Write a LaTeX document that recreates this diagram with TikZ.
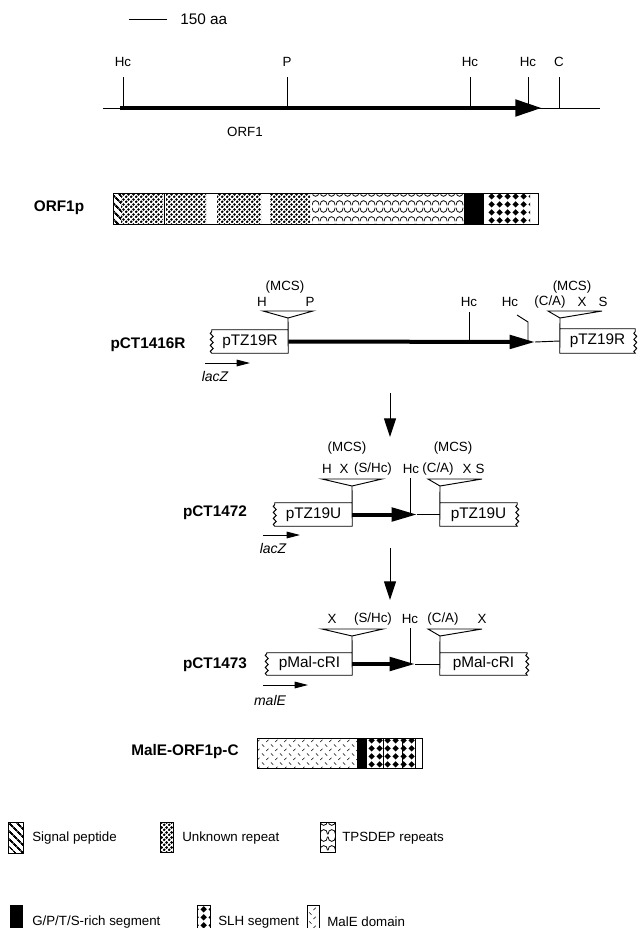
\documentclass[tikz,border=0pt]{standalone}
\usepackage{fontspec}
\setmainfont{Liberation Sans}
\usetikzlibrary{positioning, arrows.meta, calc, patterns, patterns.meta, decorations.pathmorphing}

% Fill patterns for the protein domains
\tikzdeclarepattern{
  name=stipple,
  type=uncolored,
  bounding box={(0,0) and (3.6pt,3.6pt)},
  tile size={(3.6pt,3.6pt)},
  code={
    \fill (0.9pt,0.9pt) circle (1.1pt);
    \fill (2.7pt,2.7pt) circle (1.1pt);
  }
}
\tikzdeclarepattern{
  name=wavy rows,
  type=uncolored,
  bounding box={(0,0) and (6pt,11.5pt)},
  tile size={(6pt,11.5pt)},
  code={
    \draw[line width=0.6pt] (0,11pt) .. controls (0,6.2pt) and (6pt,6.2pt) .. (6pt,11pt);
    \draw[line width=0.6pt] (0,0.5pt) .. controls (0,5.3pt) and (6pt,5.3pt) .. (6pt,0.5pt);
  }
}
\tikzdeclarepattern{
  name=slh diamonds,
  type=uncolored,
  bounding box={(0,0) and (6pt,6pt)},
  tile size={(6pt,6pt)},
  code={\fill (3pt,0.4pt) -- (5.6pt,3pt) -- (3pt,5.6pt) -- (0.4pt,3pt) -- cycle;}
}
\tikzdeclarepattern{
  name=male dashes,
  type=uncolored,
  bounding box={(0,0) and (7pt,7pt)},
  tile size={(7pt,7pt)},
  code={
    \draw[line width=0.4pt] (0.8pt,6pt) -- (2.6pt,4.2pt);
    \draw[line width=0.4pt] (4.2pt,0.8pt) -- (6pt,2.6pt);
  }
}

\begin{document}
\begin{tikzpicture}[
  x=0.75pt, y=-0.75pt,
  font=\fontsize{10}{12}\selectfont,
  % Estilos de texto
  site/.style={inner sep=0pt, font=\fontsize{10}{12}\selectfont},
  plasmid/.style={inner sep=0pt, font=\bfseries\fontsize{11.5}{13}\selectfont},
  vec/.style={inner sep=0pt, font=\fontsize{11.5}{13}\selectfont},
  gene/.style={inner sep=0pt, font=\itshape\fontsize{10.5}{12}\selectfont},
  legtext/.style={anchor=west, inner sep=0pt, font=\fontsize{10}{12}\selectfont},
  % Estilos de lineas
  bbone/.style={draw, line width=0.7pt},
  seg/.style={draw, line width=0.7pt},
  mcs/.style={draw, fill=white, line width=0.7pt},
  wav/.style={decoration={snake, segment length=4.5pt, amplitude=1.1pt}},
  orf/.style={draw, line width=3.6pt, -{Triangle[length=20pt, width=12pt]}},
  orfsmall/.style={draw, line width=3pt, -{Triangle[length=19pt, width=10pt]}},
  promo/.style={draw, line width=0.7pt, -{Triangle[length=10pt, width=5pt]}},
  steparrow/.style={draw, line width=0.7pt, -{Triangle[length=14pt, width=9pt]}},
  signal/.style={pattern={Lines[angle=-45, distance=4pt, line width=1.6pt]}}
]
  \clip (0,0) rectangle (637,928);

  % ==========================================
  % SCALE AND ORF1 MAP
  % ==========================================
  \coordinate (barL) at (129,19);
  \coordinate (barR) at (167,19);
  \draw[bbone] (barL) -- (barR);
  \node[anchor=west, inner sep=0pt, font=\fontsize{11.5}{13}\selectfont] (scale) at (180,19) {150 aa};

  \coordinate (mapL) at (103,108);
  \coordinate (mapR) at (600,108);
  \coordinate (orfS) at (120,108);
  \coordinate (orfE) at (542,108);
  \draw[bbone] (mapL) -- (mapR);
  \draw[orf] (orfS) -- (orfE);
  \foreach \x/\lab/\nm in {123/Hc/mhcA, 287/P/mp, 470/Hc/mhcB, 528/Hc/mhcC, 559/C/mc}{
    \draw[bbone] (\x,108) -- (\x,77);
    \node[site] (\nm) at (\x,62) {\lab};
  }
  \node[site] (orflab) at (245,132) {ORF1};

  % ==========================================
  % ORF1p
  % ==========================================
  \node[plasmid] (orf1p) at (59,208) {ORF1p};
  \fill[signal] (113,193) rectangle (121,224);
  \foreach \a/\b in {121/163, 166/206, 217/261, 270/310}
    \fill[pattern=stipple] (\a,193) rectangle (\b,224);
  \draw[bbone] (164.5,193) -- (164.5,224);
  \fill[pattern=wavy rows] (312,193) rectangle (464,224);
  \fill (464,193) rectangle (484,224);
  \fill[pattern=slh diamonds] (487,193) rectangle (530,224);
  \draw[seg] (113,193) rectangle (538,224);

  % ==========================================
  % pCT1416R
  % ==========================================
  \node[plasmid] (p1416) at (148,345) {pCT1416R};
  \node[vec, minimum width=57pt, minimum height=17.25pt] (tzL1) at (250,341.5) {pTZ19R};
  \node[vec, minimum width=56.25pt, minimum height=18pt] (tzR1) at (597.5,341) {pTZ19R};
  \coordinate (mcsL1) at (288,318);
  \coordinate (mcsR1) at (560,318);
  \coordinate (insE1) at (535,342);
  \draw[bbone] (mcsL1) -- (tzL1.south east) -- (tzL1.south west)
    decorate[wav]{-- (tzL1.north west)} -- (tzL1.north east);
  \draw[bbone] (mcsR1) -- (tzR1.south west) -- (tzR1.south east)
    decorate[wav]{-- (tzR1.north east)} -- (tzR1.north west);
  \draw[mcs] (263,311) -- (313,311) -- (mcsL1) -- cycle;
  \draw[mcs] (548,311) -- (602,311) -- (mcsR1) -- cycle;
  \draw[orfsmall] (tzL1.east) -- (insE1);
  \draw[bbone] (insE1) -- (tzR1.west);
  \draw[bbone] (469,342) -- (469,312);
  \draw[bbone] (528,342) -- (528,322) -- (517,315);

  \node[site] (mcs1a) at (285,287) {(MCS)};
  \node[site] (h1) at (262,302) {H};
  \node[site] (p1) at (310,302) {P};
  \node[site] (hc1a) at (469,302) {Hc};
  \node[site] (hc1b) at (510,302) {Hc};
  \node[site] (mcs1b) at (572,287) {(MCS)};
  \node[site] (ca1) at (550,302) {(C/A)};
  \node[site] (x1) at (582,302) {X};
  \node[site] (s1) at (603,302) {S};

  \coordinate (lacS1) at (205,363);
  \coordinate (lacE1) at (250,363);
  \draw[promo] (lacS1) -- (lacE1);
  \node[gene] (lac1) at (215,376) {lacZ};

  \coordinate (stepA1) at (390,393);
  \coordinate (stepA2) at (390,437);
  \draw[steparrow] (stepA1) -- (stepA2);

  % ==========================================
  % pCT1472
  % ==========================================
  \node[plasmid] (p1472) at (215,513) {pCT1472};
  \node[vec, minimum width=57.75pt, minimum height=17.25pt] (tzL2) at (313.5,514.5) {pTZ19U};
  \node[vec, minimum width=57.75pt, minimum height=17.25pt] (tzR2) at (478.5,514.5) {pTZ19U};
  \coordinate (mcsL2) at (352,486);
  \coordinate (mcsR2) at (440,486);
  \coordinate (insE2) at (417,514.5);
  \draw[bbone] (mcsL2) -- (tzL2.south east) -- (tzL2.south west)
    decorate[wav]{-- (tzL2.north west)} -- (tzL2.north east);
  \draw[bbone] (mcsR2) -- (tzR2.south west) -- (tzR2.south east)
    decorate[wav]{-- (tzR2.north east)} -- (tzR2.north west);
  \draw[mcs] (322,479) -- (382,479) -- (mcsL2) -- cycle;
  \draw[mcs] (428,479) -- (482,479) -- (mcsR2) -- cycle;
  \draw[orfsmall] (tzL2.east) -- (insE2);
  \draw[bbone] (insE2) -- (tzR2.west);
  \draw[bbone] (410,514.5) -- (410,478);

  \node[site] (mcs2a) at (347,448) {(MCS)};
  \node[site] (h2) at (327,469) {H};
  \node[site] (x2a) at (344,469) {X};
  \node[site] (shc2) at (373,469) {(S/Hc)};
  \node[site] (hc2) at (411,469) {Hc};
  \node[site] (mcs2b) at (453,448) {(MCS)};
  \node[site] (ca2) at (438,469) {(C/A)};
  \node[site] (x2b) at (467,469) {X};
  \node[site] (s2) at (480,469) {S};

  \coordinate (lacS2) at (263,535);
  \coordinate (lacE2) at (300,535);
  \draw[promo] (lacS2) -- (lacE2);
  \node[gene] (lac2) at (273,548) {lacZ};

  \coordinate (stepB1) at (390,548);
  \coordinate (stepB2) at (390,600);
  \draw[steparrow] (stepB1) -- (stepB2);

  % ==========================================
  % pCT1473
  % ==========================================
  \node[plasmid] (p1473) at (215,665) {pCT1473};
  \node[vec, minimum width=63.75pt, minimum height=16.5pt] (malL3) at (309.5,664) {pMal-cRI};
  \node[vec, minimum width=65.25pt, minimum height=16.5pt] (malR3) at (483.5,664) {pMal-cRI};
  \coordinate (mcsL3) at (352,636);
  \coordinate (mcsR3) at (440,636);
  \coordinate (insE3) at (415,664);
  \draw[bbone] (mcsL3) -- (malL3.south east) -- (malL3.south west)
    decorate[wav]{-- (malL3.north west)} -- (malL3.north east);
  \draw[bbone] (mcsR3) -- (malR3.south west) -- (malR3.south east)
    decorate[wav]{-- (malR3.north east)} -- (malR3.north west);
  \draw[mcs] (322,629) -- (383,629) -- (mcsL3) -- cycle;
  \draw[mcs] (428,629) -- (482,629) -- (mcsR3) -- cycle;
  \draw[orfsmall] (malL3.east) -- (insE3);
  \draw[bbone] (insE3) -- (malR3.west);
  \draw[bbone] (410,664) -- (410,628);

  \node[site] (x3a) at (332,619) {X};
  \node[site] (shc3) at (373,619) {(S/Hc)};
  \node[site] (hc3) at (410,619) {Hc};
  \node[site] (ca3) at (443,619) {(C/A)};
  \node[site] (x3b) at (482,619) {X};

  \coordinate (malS3) at (263,685);
  \coordinate (malE3) at (308,685);
  \draw[promo] (malS3) -- (malE3);
  \node[gene] (male3) at (270,700) {malE};

  % ==========================================
  % MalE-ORF1p-C
  % ==========================================
  \node[plasmid] (fusion) at (185,752) {MalE-ORF1p-C};
  \fill[pattern=male dashes] (257,738) rectangle (357,768);
  \fill (357,738) rectangle (367,768);
  \fill[pattern=slh diamonds] (368,738) rectangle (415,768);
  \foreach \x in {383,402,415}
    \draw[bbone] (\x,738) -- (\x,768);
  \draw[seg] (257,738) rectangle (422,768);

  % ==========================================
  % LEGEND
  % ==========================================
  \draw[seg, signal] (8,822) rectangle (23,853);
  \node[legtext] (lsig) at (32,838) {Signal peptide};
  \draw[seg, pattern=stipple] (160,822) rectangle (173,852);
  \node[legtext] (lunk) at (182,838) {Unknown repeat};
  \draw[seg, pattern=wavy rows] (320,822) rectangle (335,852);
  \node[legtext] (ltps) at (342,838) {TPSDEP repeats};

  \fill (10,905) rectangle (23,940);
  \node[legtext] (lgpts) at (32,922) {G/P/T/S-rich segment};
  \draw[seg, pattern=slh diamonds] (197,905) rectangle (210,940);
  \node[legtext] (lslh) at (218,922) {SLH segment};
  \draw[seg, pattern=male dashes] (307,905) rectangle (319,940);
  \node[legtext] (lmal) at (327,922) {MalE domain};

\end{tikzpicture}
\end{document}
